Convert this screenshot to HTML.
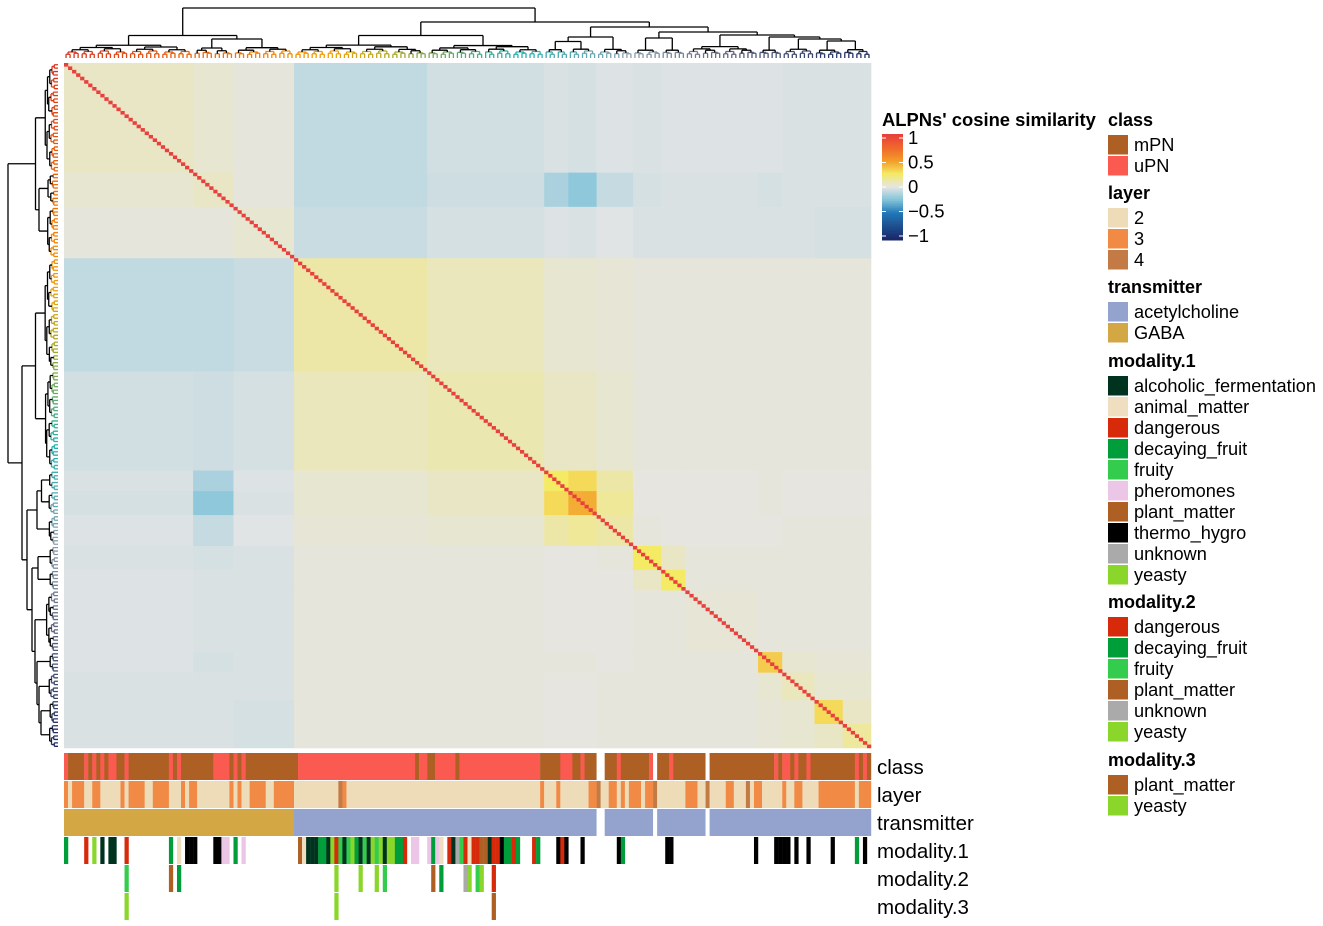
<!DOCTYPE html>
<html><head><meta charset="utf-8">
<style>
html,body{margin:0;padding:0;background:#fff;}
svg{display:block;font-family:"Liberation Sans",Arial,sans-serif;}
</style></head>
<body>
<svg id="chart" width="1323" height="926" viewBox="0 0 1323 926"></svg>
<script>
// ---- data ----
const groupNames = ["A1","A2","A3","B1","B2","C1a","C1b","C2","D1","D2","D3","D4","D5","D6","D7"];
const groupSizes = [32,10,15,33,29,6,7,9,7,6,18,6,8,7,7];
const blockMeans = [
[.06,.04,.02,-.09,-.05,-.03,-.04,-.02,-.03,-.02,-.02,-.02,-.03,-.03,-.03],
[.04,.06,.02,-.09,-.06,-.15,-.22,-.08,-.04,-.03,-.03,-.04,-.03,-.03,-.03],
[.02,.02,.04,-.07,-.04,-.02,-.03,-.01,-.03,-.03,-.03,-.03,-.03,-.04,-.04],
[-.09,-.09,-.07,.12,.08,.04,.04,.03,.02,.02,.02,.02,.02,.02,.02],
[-.05,-.06,-.04,.08,.10,.06,.06,.04,.02,.02,.02,.02,.02,.02,.02],
[-.03,-.15,-.02,.04,.06,.25,.30,.12,.01,.01,.01,.02,.01,.01,.01],
[-.04,-.22,-.03,.04,.06,.30,.45,.15,.01,.01,.01,.02,.01,.01,.01],
[-.02,-.08,-.01,.03,.04,.12,.15,.12,.02,.01,.01,.01,.02,.02,.02],
[-.03,-.04,-.03,.02,.02,.01,.01,.02,.25,.06,.02,.02,.02,.02,.02],
[-.02,-.03,-.03,.02,.02,.01,.01,.01,.06,.25,.02,.02,.02,.02,.02],
[-.02,-.03,-.03,.02,.02,.01,.01,.01,.02,.02,.03,.02,.02,.02,.02],
[-.02,-.04,-.03,.02,.02,.02,.02,.01,.02,.02,.02,.35,.04,.03,.03],
[-.03,-.03,-.03,.02,.02,.01,.01,.02,.02,.02,.02,.04,.08,.04,.04],
[-.03,-.03,-.04,.02,.02,.01,.01,.02,.02,.02,.02,.03,.04,.30,.06],
[-.03,-.03,-.04,.02,.02,.01,.01,.02,.02,.02,.02,.03,.04,.06,.14]
];
const diagValue = 1;
const classRuns = [[0,"uPN"],[1,"mPN"],[5,"uPN"],[6,"mPN"],[7,"uPN"],[8,"mPN"],[9,"uPN"],[10,"mPN"],[11,"uPN"],[13,"mPN"],[15,"uPN"],[16,"mPN"],[26,"uPN"],[27,"mPN"],[28,"uPN"],[29,"mPN"],[37,"uPN"],[41,"mPN"],[42,"uPN"],[43,"mPN"],[44,"uPN"],[45,"mPN"],[58,"uPN"],[87,"mPN"],[88,"uPN"],[90,"mPN"],[92,"uPN"],[97,"mPN"],[98,"uPN"],[118,"mPN"],[123,"uPN"],[126,"mPN"],[128,"uPN"],[129,"mPN"],[132,"gap"],[134,"mPN"],[137,"uPN"],[138,"mPN"],[145,"uPN"],[146,"gap"],[147,"mPN"],[150,"uPN"],[151,"mPN"],[159,"gap"],[160,"mPN"],[176,"uPN"],[177,"mPN"],[178,"uPN"],[180,"mPN"],[181,"uPN"],[182,"mPN"],[184,"uPN"],[185,"mPN"],[196,"uPN"],[197,"mPN"],[198,"uPN"],[199,"mPN"]];
const layerRuns = [[0,"3"],[1,"2"],[2,"3"],[5,"2"],[7,"3"],[9,"2"],[14,"3"],[15,"2"],[16,"3"],[20,"2"],[22,"3"],[26,"2"],[29,"3"],[30,"2"],[31,"3"],[33,"2"],[41,"3"],[42,"2"],[43,"3"],[44,"2"],[46,"3"],[50,"2"],[52,"3"],[57,"2"],[68,"4"],[69,"3"],[70,"2"],[118,"3"],[119,"2"],[122,"3"],[123,"2"],[130,"3"],[132,"4"],[133,"2"],[135,"3"],[137,"2"],[138,"3"],[139,"2"],[140,"3"],[143,"2"],[144,"3"],[146,"4"],[147,"2"],[154,"3"],[157,"2"],[159,"4"],[160,"2"],[164,"3"],[166,"2"],[169,"4"],[170,"2"],[171,"3"],[173,"2"],[178,"3"],[179,"2"],[181,"3"],[183,"2"],[187,"3"],[196,"2"],[197,"3"]];
const transmitterRuns = [[0,"GABA"],[57,"acetylcholine"],[132,"gap"],[134,"acetylcholine"],[146,"gap"],[147,"acetylcholine"],[159,"gap"],[160,"acetylcholine"]];
const modality1 = [[0,"decaying_fruit"],[5,"dangerous"],[7,"yeasty"],[9,"alcoholic_fermentation"],[11,"alcoholic_fermentation"],[12,"alcoholic_fermentation"],[15,"dangerous"],[26,"decaying_fruit"],[28,"animal_matter"],[30,"thermo_hygro"],[31,"thermo_hygro"],[32,"thermo_hygro"],[37,"thermo_hygro"],[38,"thermo_hygro"],[39,"pheromones"],[40,"pheromones"],[42,"decaying_fruit"],[44,"pheromones"],[58,"plant_matter"],[59,"animal_matter"],[60,"alcoholic_fermentation"],[61,"alcoholic_fermentation"],[62,"alcoholic_fermentation"],[63,"decaying_fruit"],[64,"decaying_fruit"],[65,"alcoholic_fermentation"],[66,"yeasty"],[67,"dangerous"],[68,"fruity"],[69,"alcoholic_fermentation"],[70,"fruity"],[71,"yeasty"],[72,"decaying_fruit"],[73,"alcoholic_fermentation"],[74,"fruity"],[75,"alcoholic_fermentation"],[76,"yeasty"],[77,"fruity"],[78,"yeasty"],[79,"alcoholic_fermentation"],[80,"yeasty"],[81,"yeasty"],[82,"decaying_fruit"],[83,"decaying_fruit"],[84,"dangerous"],[86,"pheromones"],[87,"pheromones"],[90,"pheromones"],[91,"decaying_fruit"],[92,"pheromones"],[93,"animal_matter"],[95,"dangerous"],[96,"alcoholic_fermentation"],[97,"unknown"],[98,"fruity"],[99,"dangerous"],[100,"animal_matter"],[101,"dangerous"],[102,"dangerous"],[103,"plant_matter"],[104,"plant_matter"],[105,"alcoholic_fermentation"],[106,"dangerous"],[107,"dangerous"],[108,"thermo_hygro"],[109,"decaying_fruit"],[110,"decaying_fruit"],[111,"dangerous"],[112,"decaying_fruit"],[116,"dangerous"],[117,"decaying_fruit"],[122,"thermo_hygro"],[123,"dangerous"],[124,"thermo_hygro"],[128,"thermo_hygro"],[137,"thermo_hygro"],[138,"decaying_fruit"],[149,"thermo_hygro"],[150,"thermo_hygro"],[171,"thermo_hygro"],[176,"thermo_hygro"],[177,"thermo_hygro"],[178,"thermo_hygro"],[179,"thermo_hygro"],[181,"thermo_hygro"],[184,"thermo_hygro"],[190,"thermo_hygro"],[196,"decaying_fruit"],[198,"thermo_hygro"]];
const modality2 = [[15,"fruity"],[26,"plant_matter"],[28,"decaying_fruit"],[67,"yeasty"],[73,"yeasty"],[77,"yeasty"],[79,"fruity"],[91,"plant_matter"],[93,"decaying_fruit"],[99,"unknown"],[100,"yeasty"],[102,"fruity"],[103,"yeasty"],[106,"dangerous"]];
const modality3 = [[15,"yeasty"],[67,"yeasty"],[106,"plant_matter"]];
const colorTicks = [1,0.5,0,-0.5,-1];
const colorTickLabels = ["1","0.5","0","\u22120.5","\u22121"];

// ---- styles ----
const N = 200, X0 = 64, Y0 = 63, W = 807, H = 685;
const cw = W/N, ch = H/N;
const catColors = {
  mPN:"#ad5f24", uPN:"#fb5a50", "2":"#eedcb9", "3":"#f08a45", "4":"#c47a44",
  acetylcholine:"#94a3cd", GABA:"#d4a745", gap:"#ffffff",
  alcoholic_fermentation:"#00331f", animal_matter:"#efdfc0", dangerous:"#d62a0a",
  decaying_fruit:"#009e3a", fruity:"#33cc4c", pheromones:"#ecc6e6", plant_matter:"#ad5f24",
  thermo_hygro:"#000000", unknown:"#aaaaaa", yeasty:"#8ad62a"
};
const svg = document.getElementById('chart');
const NS = "http://www.w3.org/2000/svg";
function mk(tag, attrs, parent){const e=document.createElementNS(NS,tag);for(const k in attrs)e.setAttribute(k,attrs[k]);(parent||svg).appendChild(e);return e;}
const stops=[[-1,[26,40,104]],[-0.5,[33,120,184]],[-0.25,[130,196,216]],[0,[229,229,229]],[0.25,[244,234,100]],[0.5,[243,156,40]],[0.75,[240,104,44]],[1,[232,64,60]]];
function color(v){v=Math.max(-1,Math.min(1,v));for(let i=0;i<stops.length-1;i++){const a=stops[i],b=stops[i+1];if(v<=b[0]){const t=(v-a[0])/(b[0]-a[0]);const c=a[1].map((x,j)=>Math.round(x+(b[1][j]-x)*t));return `rgb(${c[0]},${c[1]},${c[2]})`;}}return "rgb(232,64,60)";}
const xS = i => X0 + i*cw, yS = i => Y0 + i*ch;

// ---- heatmap ----
const gHeat = mk('g',{});


const starts=[];let acc=0;groupSizes.forEach(s=>{starts.push(acc);acc+=s;});
for(let i=0;i<groupSizes.length;i++)for(let j=0;j<groupSizes.length;j++){
  const r=mk('rect',{x:xS(starts[j]),y:yS(starts[i]),width:groupSizes[j]*cw+0.3,height:groupSizes[i]*ch+0.3,fill:color(blockMeans[i][j])},gHeat);
  
  
}
for(let k=0;k<N;k++){
  const r=mk('rect',{x:xS(k),y:yS(k),width:cw+0.2,height:ch+0.2,fill:color(diagValue)},gHeat);
  
  
}

// ---- annotations ----
function runs(list, y, h, name){
  const g=mk('g',{});
  
  
  list.forEach((r,i)=>{const s=r[0],e=i<list.length-1?list[i+1][0]:N;
    const el=mk('rect',{x:xS(s),y:y,width:(e-s)*cw+0.2,height:h,fill:catColors[r[1]]},g);
    
    });
}
function singles(list, y, h, name){
  const g=mk('g',{});
  
  
  list.forEach(r=>{const el=mk('rect',{x:xS(r[0]),y:y,width:cw+0.2,height:h,fill:catColors[r[1]]},g);
    
    });
}
runs(classRuns,753,27,'class');
runs(layerRuns,781,27,'layer');
runs(transmitterRuns,809,27,'transmitter');
singles(modality1,837,27,'modality-1');
singles(modality2,865,27,'modality-2');
singles(modality3,893,27,'modality-3');
[["class",767],["layer",795],["transmitter",823],["modality.1",851],["modality.2",879],["modality.3",907]].forEach(a=>{
  const t=mk('text',{x:877,y:a[1]+7,'font-size':20.5,fill:'#000'});t.textContent=a[0];
  
  
});

// ---- dendrograms ----
const leafPal=[[0,[215,48,31]],[0.2,[240,112,0]],[0.33,[240,160,0]],[0.4,[180,168,32]],[0.48,[100,170,100]],[0.56,[32,176,176]],[0.7,[140,160,176]],[0.82,[96,104,128]],[1,[26,42,96]]];
function leafCol(f){for(let i=0;i<leafPal.length-1;i++){const a=leafPal[i],b=leafPal[i+1];if(f<=b[0]){const t=(f-a[0])/(b[0]-a[0]);const c=a[1].map((x,j)=>Math.round(x+(b[1][j]-x)*t));return `rgb(${c})`;}}return 'rgb(26,42,96)';}
function sub(s,e){
  if(e-s===1) return {pos:s+0.5,h:0,leaf:s};
  const m=Math.floor((s+e)/2);const a=sub(s,m),b=sub(m,e);
  return {pos:(a.pos+b.pos)/2,h:0.03+0.045*Math.log2(e-s)+0.01*((s*7)%3),c:[a,b]};
}
function gnode(i){return sub(starts[i],starts[i]+groupSizes[i]);}
function node(h,c){return {h:h,c:c,pos:(c[0].pos+c[c.length-1].pos)/2};}
const tree = node(1.0,[
  node(0.45,[gnode(0),node(0.38,[gnode(1),gnode(2)])]),
  node(0.72,[node(0.45,[gnode(3),gnode(4)]),
    node(0.62,[node(0.42,[node(0.33,[gnode(5),gnode(6)]),gnode(7)]),
      node(0.52,[node(0.4,[gnode(8),gnode(9)]),node(0.46,[gnode(10),node(0.42,[gnode(11),node(0.38,[gnode(12),node(0.34,[gnode(13),gnode(14)])])])])])])])
]);
function drawTree(n, p, g){
  if(!n.c) return;
  n.c.forEach(ch=>drawTree(ch,p,g));
  const col = n.h<0.14 ? leafCol(n.pos/N) : '#000';
  const a=n.c[0],b=n.c[n.c.length-1];
  let d='';
  n.c.forEach(ch=>{const [x1,y1]=p(ch.pos,ch.h),[x2,y2]=p(ch.pos,n.h);d+=`M${x1},${y1}L${x2},${y2}`;});
  const [xa,ya]=p(a.pos,n.h),[xb,yb]=p(b.pos,n.h);d+=`M${xa},${ya}L${xb},${yb}`;
  mk('path',{d:d,stroke:col,'stroke-width':1.3,fill:'none'},g);
}
const gTop=mk('g',{});


drawTree(tree,(pos,h)=>[X0+pos*cw, 58 - h*(58-8)],gTop);
const gLeft=mk('g',{});


drawTree(tree,(pos,h)=>[58 - h*(58-8), Y0+pos*ch],gLeft);

// ---- color legend ----
const gL=mk('g',{});


const lt=mk('text',{x:882,y:126,'font-size':18.4,'font-weight':'bold'},gL);lt.textContent="ALPNs' cosine similarity";


const cbTop=134,cbBot=240,cbX=882,cbW=21;
for(let k=0;k<60;k++){const v=1-2*k/59;mk('rect',{x:cbX,y:cbTop+(cbBot-cbTop)*k/60,width:cbW,height:(cbBot-cbTop)/60+0.5,fill:color(v)},gL);}
const cbY=v=>cbTop+4+(1-v)/2*(cbBot-cbTop-8);
colorTicks.forEach((v,i)=>{const y=cbY(v);
  mk('line',{x1:cbX,x2:cbX+4,y1:y,y2:y,stroke:'#fff','stroke-width':1},gL);
  mk('line',{x1:cbX+cbW-4,x2:cbX+cbW,y1:y,y2:y,stroke:'#fff','stroke-width':1},gL);
  const t=mk('text',{x:cbX+26,y:y+6,'font-size':18.5},gL);t.textContent=colorTickLabels[i];
  
  });

// ---- categorical legends ----
const legends=[
 ["class",120,[["mPN","mPN"],["uPN","uPN"]]],
 ["layer",193,[["2","2"],["3","3"],["4","4"]]],
 ["transmitter",287,[["acetylcholine","acetylcholine"],["GABA","GABA"]]],
 ["modality.1",361,["alcoholic_fermentation","animal_matter","dangerous","decaying_fruit","fruity","pheromones","plant_matter","thermo_hygro","unknown","yeasty"].map(s=>[s,s])],
 ["modality.2",602,["dangerous","decaying_fruit","fruity","plant_matter","unknown","yeasty"].map(s=>[s,s])],
 ["modality.3",760,["plant_matter","yeasty"].map(s=>[s,s])]
];
legends.forEach(L=>{
  const g=mk('g',{});
  
  
  const t=mk('text',{x:1108,y:L[1]+6,'font-size':18,'font-weight':'bold'},g);t.textContent=L[0];
  L[2].forEach((e,i)=>{const y=L[1]+15+i*21;
    mk('rect',{x:1108,y:y,width:20,height:19.5,fill:catColors[e[1]]},g);
    const tt=mk('text',{x:1134,y:y+16,'font-size':18.2},g);tt.textContent=e[0];
    
    });
});
</script>
</body></html>
